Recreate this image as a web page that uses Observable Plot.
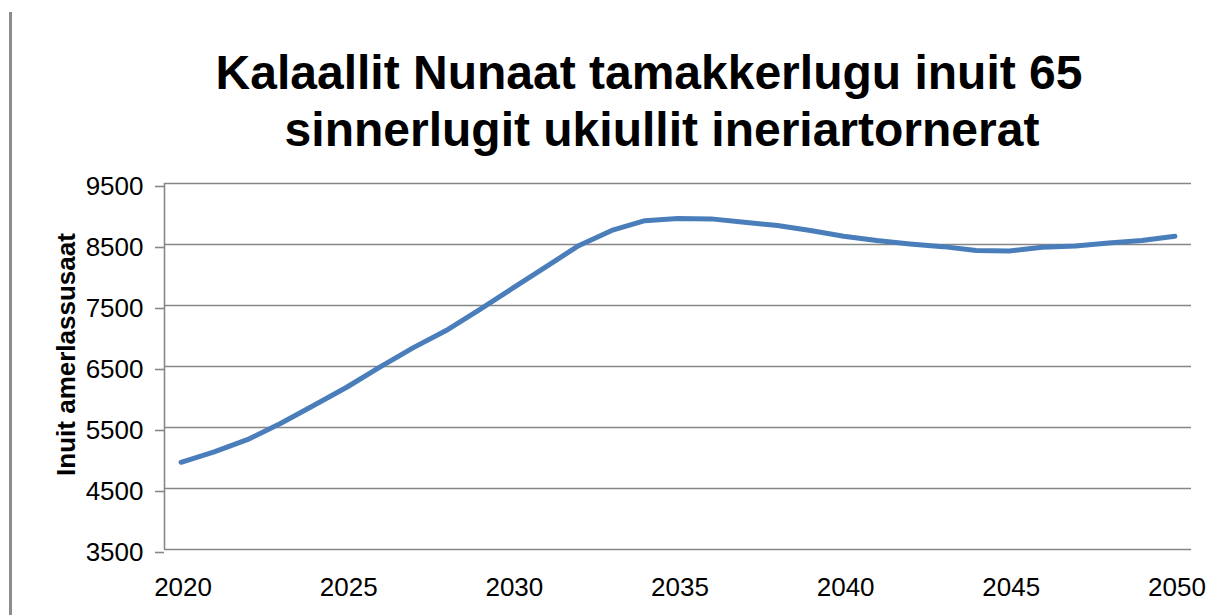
<!DOCTYPE html>
<html>
<head>
<meta charset="utf-8">
<script src="https://cdn.jsdelivr.net/npm/d3@7"></script>
<script src="https://cdn.jsdelivr.net/npm/@observablehq/plot@0.6"></script>
<style>
  html, body { margin: 0; padding: 0; background: #fff; }
  body { width: 1216px; height: 615px; overflow: hidden; position: relative; font-family: "Liberation Sans", Arial, sans-serif; }
  #border { position: absolute; left: 9px; top: 12px; width: 2.5px; height: 603px; background: #8c8c8c; }
  #title { position: relative; height: 160px; }
  #title div { position: absolute; transform: translateX(-50%); white-space: nowrap; font-size: 48px; font-weight: bold; color: #000; line-height: 57px; }
  #chart { position: relative; }
</style>
</head>
<body>
<div id="border"></div>
<div id="title">
  <div style="left:649px; top:44px;">Kalaallit Nunaat tamakkerlugu inuit 65</div>
  <div style="left:662px; top:101px;">sinnerlugit ukiullit ineriartornerat</div>
</div>
<div id="chart"></div>
<script>
const years = [2020, 2021, 2022, 2023, 2024, 2025, 2026, 2027, 2028, 2029,
               2030, 2031, 2032, 2033, 2034, 2035, 2036, 2037, 2038, 2039,
               2040, 2041, 2042, 2043, 2044, 2045, 2046, 2047, 2048, 2049, 2050];
const population = [4930, 5100, 5300, 5565, 5860, 6160, 6490, 6805, 7090, 7430,
                    7780, 8130, 8480, 8730, 8890, 8925, 8920, 8865, 8810, 8730,
                    8635, 8565, 8510, 8465, 8400, 8395, 8455, 8475, 8525, 8565, 8635];
const xTicks = [2020, 2025, 2030, 2035, 2040, 2045, 2050];
const yTicks = [3500, 4500, 5500, 6500, 7500, 8500, 9500];
const yLabel = "Inuit amerlassusaat";

const data = years.map((year, i) => ({year, value: population[i]}));
const xMin = d3.min(years) - 0.5;
const xMax = d3.max(years) + 0.5;

const chart = Plot.plot({
  width: 1216,
  height: 455,
  marginLeft: 164,
  marginRight: 25,
  marginTop: 23,
  marginBottom: 66,
  style: {fontFamily: "'Liberation Sans', Arial, sans-serif", background: "transparent", color: "#000"},
  x: {domain: [xMin, xMax]},
  y: {domain: [d3.min(yTicks), d3.max(yTicks)]},
  marks: [
    Plot.gridY(yTicks, {stroke: "#878787", strokeOpacity: 1, strokeWidth: 1.6}),
    Plot.ruleX([xMin], {stroke: "#878787", strokeWidth: 1.6}),
    Plot.axisY(yTicks, {tickSize: 9, tickPadding: 12, fontSize: 26, dy: 3, label: null,
                        stroke: "#878787", strokeWidth: 1.6, tickFormat: d => String(d), fill: "#000"}),
    Plot.axisX(xTicks, {tickSize: 0, tickPadding: 28, fontSize: 26, dx: 2, label: null,
                        tickFormat: d => String(d), fill: "#000"}),
    Plot.text([yLabel], {frameAnchor: "left", rotate: -90, dx: -98, dy: -12, fontSize: 26,
                         fontWeight: "bold", fill: "#000", lineAnchor: "middle", textAnchor: "middle"}),
    Plot.line(data, {x: "year", y: "value", stroke: "#4a7ebb", strokeWidth: 5,
                     strokeLinecap: "round", strokeLinejoin: "round"})
  ]
});
document.getElementById("chart").appendChild(chart);
</script>
</body>
</html>
